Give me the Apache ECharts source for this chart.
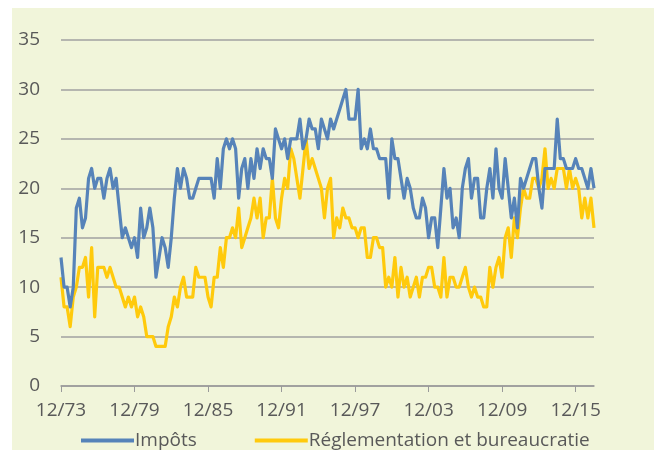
<!DOCTYPE html>
<html>
<head>
<meta charset="utf-8">
<script src="https://cdn.jsdelivr.net/npm/echarts@6/dist/echarts.min.js"></script>
<style>
html,body{margin:0;padding:0;background:#ffffff;}
#c{width:654px;height:450px;}
</style>
</head>
<body>
<div id="c"></div>
<script>
// Quarterly observations, 12/73 .. 06/17
const seriesNames = ['Impôts', 'Réglementation et bureaucratie'];
const tickLabels = ['12/73','12/79','12/85','12/91','12/97','12/03','12/09','12/15'];
const impots = [
13,10,10,8,10,18,19,16,17,21,
22,20,21,21,19,21,22,20,21,18,
15,16,15,14,15,13,18,15,16,18,
16,11,13,15,14,12,15,19,22,20,
22,21,19,19,20,21,21,21,21,21,
19,23,20,24,25,24,25,24,19,22,
23,20,23,21,24,22,24,23,23,21,
26,25,24,25,23,25,25,25,27,24,
25,27,26,26,24,27,26,25,27,26,
27,28,29,30,27,27,27,30,24,25,
24,26,24,24,23,23,23,19,25,23,
23,21,19,21,20,18,17,17,19,18,
15,17,17,14,18,22,19,20,16,17,
15,20,22,23,19,21,21,17,17,20,
22,19,24,20,19,23,20,17,19,16,
21,20,21,22,23,23,20,18,22,22,
22,22,27,23,23,22,22,22,23,22,
22,21,20,22,20
];
const reglementation = [
11,8,8,6,9,10,12,12,13,9,
14,7,12,12,12,11,12,11,10,10,
9,8,9,8,9,7,8,7,5,5,
5,4,4,4,4,6,7,9,8,10,
11,9,9,9,12,11,11,11,9,8,
11,11,14,12,15,15,16,15,18,14,
15,16,17,19,17,19,15,17,17,21,
17,16,19,21,20,24,23,21,19,22,
25,22,23,22,21,20,17,20,21,15,
17,16,18,17,17,16,16,15,16,16,
13,13,15,15,14,14,10,11,10,13,
9,12,10,11,9,10,11,9,11,11,
12,12,10,10,9,13,9,11,11,10,
10,11,12,10,9,10,9,9,8,8,
12,10,12,13,11,15,16,13,17,15,
18,20,19,19,21,21,20,21,24,20,
21,20,22,22,22,20,22,20,21,20,
17,19,17,19,16
];
// quarterly category labels starting 12/73
const categories = [];
for (let i = 0; i < impots.length; i++) {
  const m = 12 + i * 3;
  const year = 1973 + Math.floor((m - 1) / 12);
  const month = ((m - 1) % 12) + 1;
  categories.push((month < 10 ? '0' : '') + month + '/' + String(year % 100).padStart(2, '0'));
}
const isTick = (idx) => tickLabels.indexOf(categories[idx]) >= 0;

const FONT = '"Open Sans", sans-serif';
const TXT = '#595959';
const chart = echarts.init(document.getElementById('c'), null, {renderer: 'canvas'});
chart.setOption({
  animation: false,
  backgroundColor: 'transparent',
  graphic: [{
    type: 'rect', z: -10, silent: true,
    shape: {x: 12, y: 8, width: 642, height: 442},
    style: {fill: '#f1f5da'}
  }],
  grid: {left: 61, right: 60, top: 40, bottom: 64, containLabel: false},
  legend: {
    left: 76, top: 426,
    itemWidth: 53, itemHeight: 4, itemGap: 58,
    icon: 'rect',
    textStyle: {fontFamily: FONT, fontSize: 19, color: TXT, padding: [0,0,0,-4]},
    data: seriesNames
  },
  xAxis: {
    type: 'category',
    data: categories,
    boundaryGap: false,
    axisLine: {lineStyle: {color: '#9a9a9a', width: 1.5}},
    axisTick: {show: true, length: 6, interval: isTick, lineStyle: {color: '#9a9a9a', width: 1}},
    axisLabel: {
      interval: isTick,
      fontFamily: FONT, fontSize: 19, color: TXT, margin: 15
    },
    splitLine: {show: false}
  },
  yAxis: {
    type: 'value', min: 0, max: 35, interval: 5,
    axisLine: {show: false}, axisTick: {show: false},
    axisLabel: {fontFamily: FONT, fontSize: 19, color: TXT, margin: 21},
    splitLine: {lineStyle: {color: '#a0a0a0', width: 1.5}}
  },
  series: [
    {
      name: seriesNames[0], type: 'line', data: impots,
      showSymbol: false, symbol: 'none',
      lineStyle: {color: '#5683b9', width: 3.2, join: 'round'},
      itemStyle: {color: '#5683b9'}, z: 3
    },
    {
      name: seriesNames[1], type: 'line', data: reglementation,
      showSymbol: false, symbol: 'none',
      lineStyle: {color: '#ffca0c', width: 3.2, join: 'round'},
      itemStyle: {color: '#ffca0c'}, z: 2
    }
  ]
});
</script>
</body>
</html>
